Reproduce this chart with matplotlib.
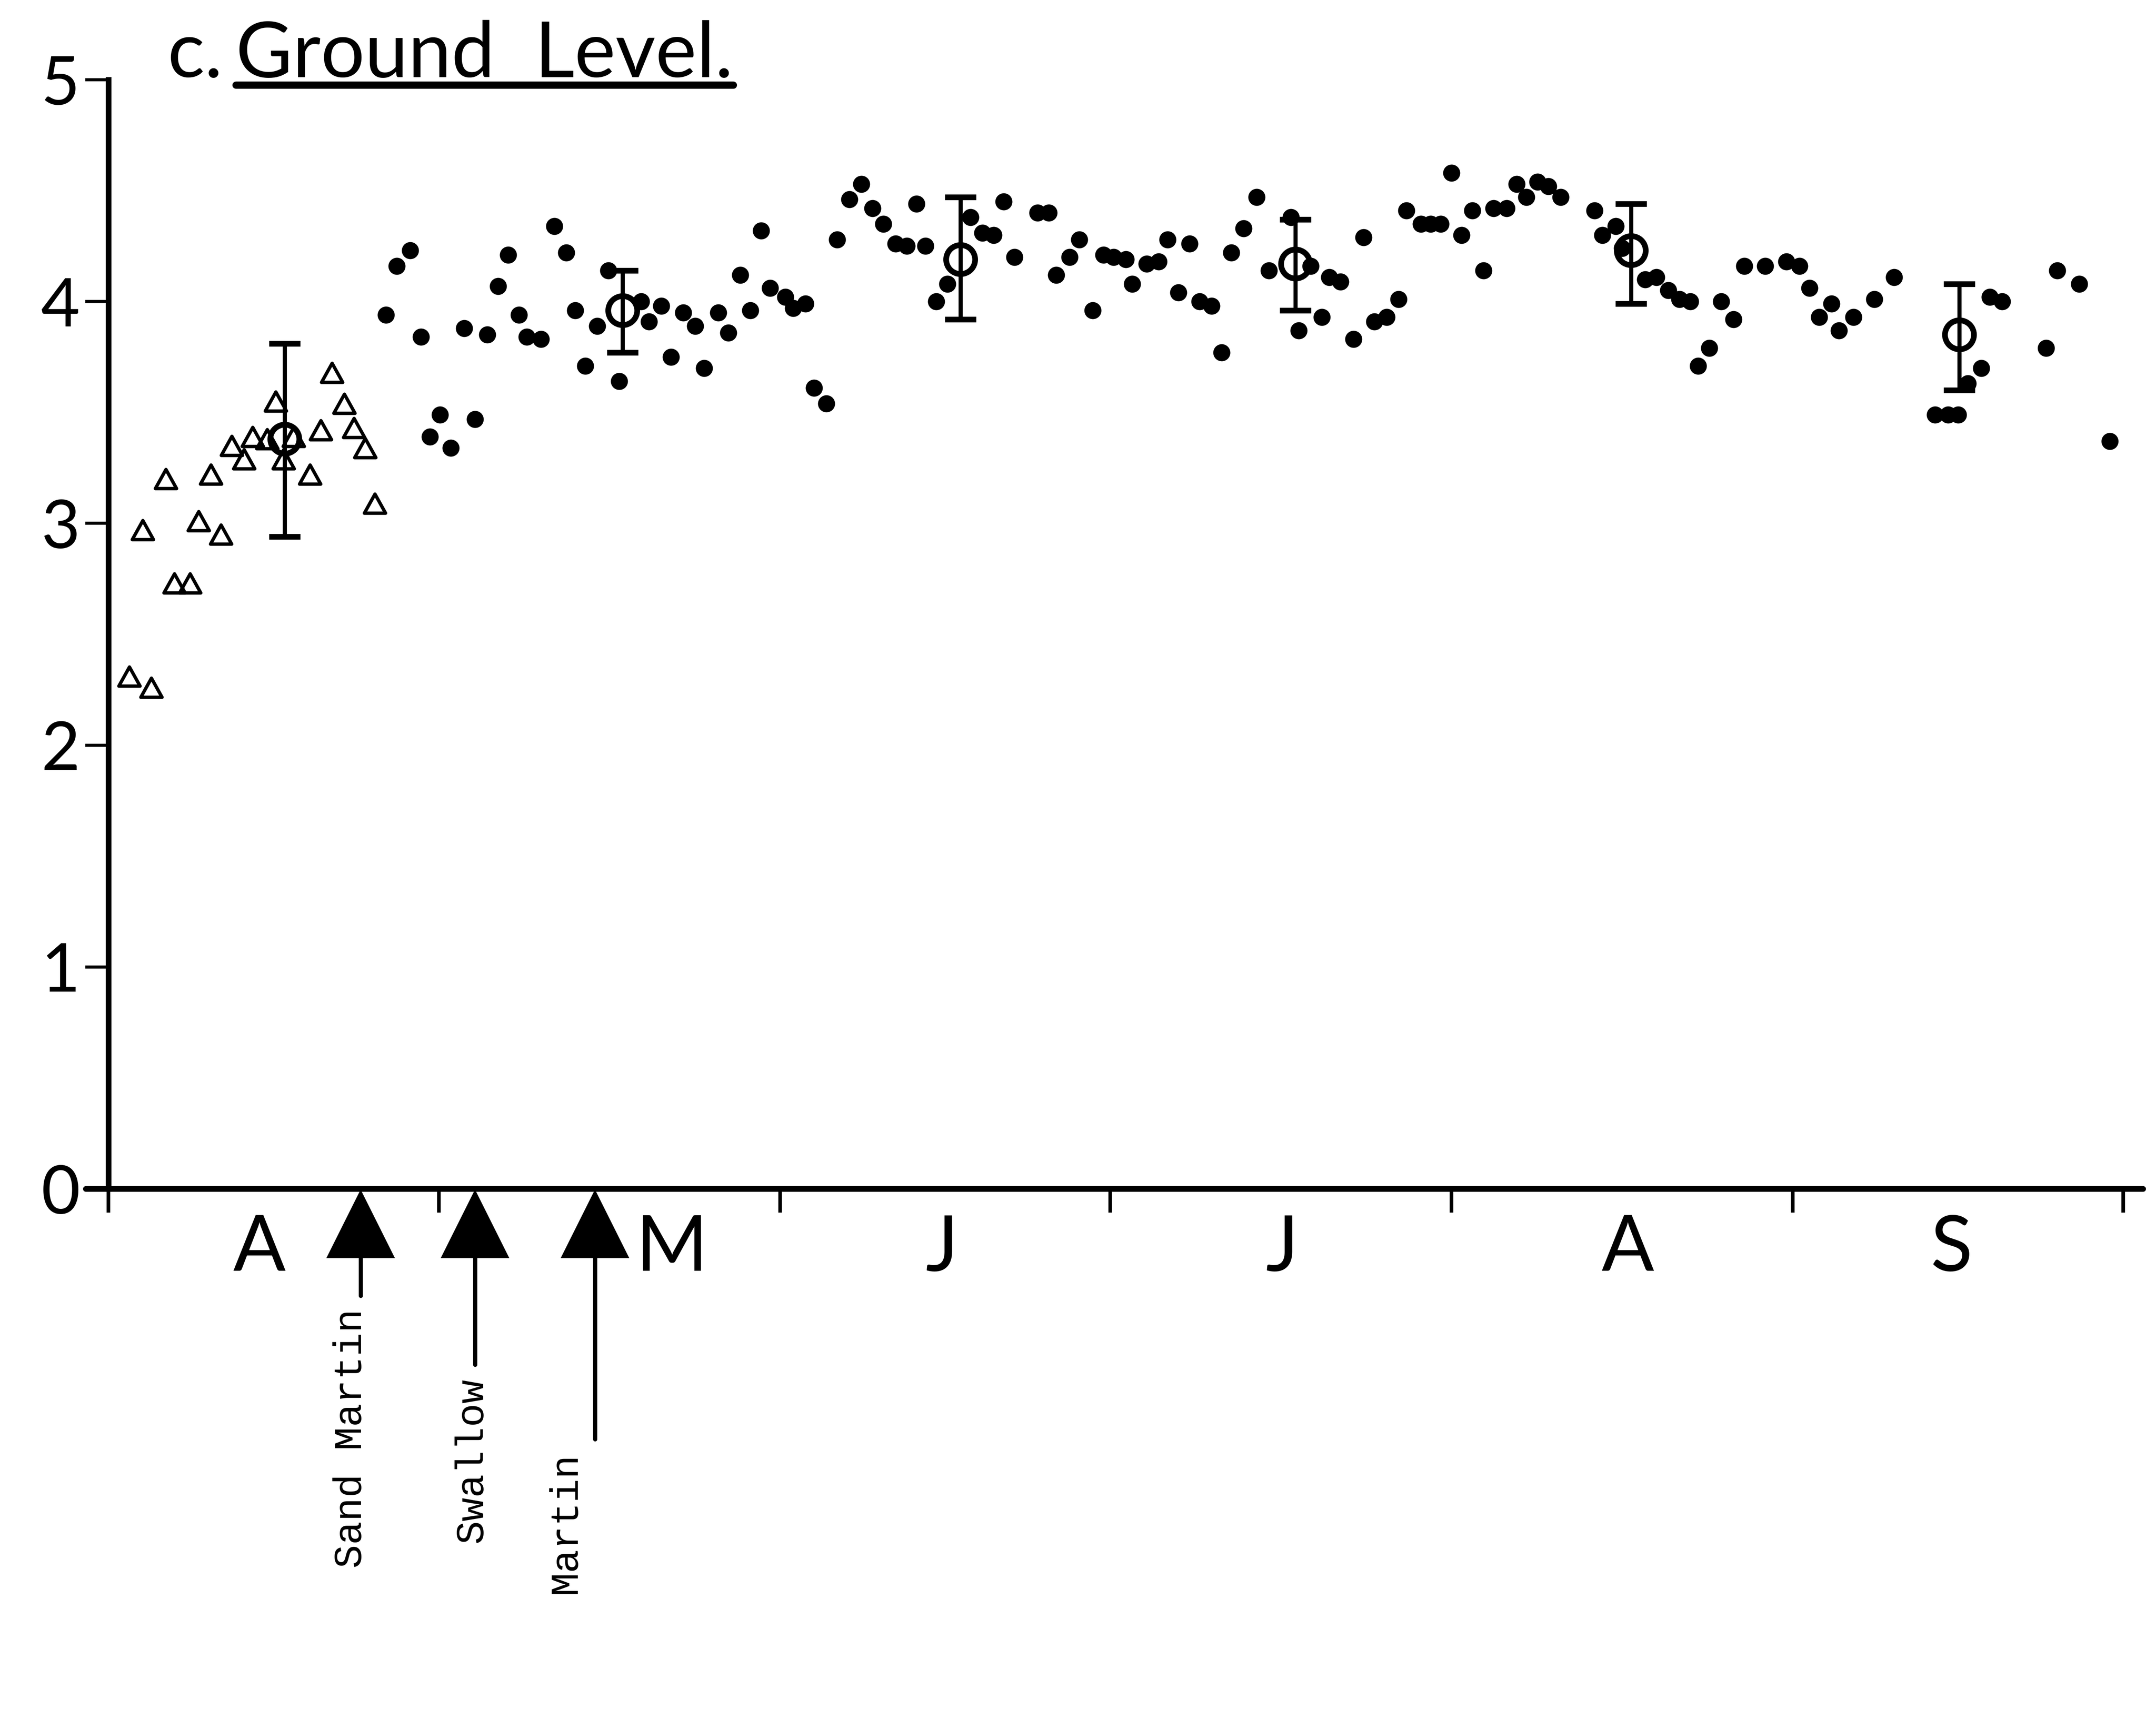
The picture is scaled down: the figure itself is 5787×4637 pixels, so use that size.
import matplotlib
matplotlib.use("Agg")
import matplotlib.pyplot as plt
from matplotlib.path import Path
from matplotlib.lines import Line2D

# ---- data: x = days counted from 1 April, y = activity score (0-5) ----
tri_days = [1.9, 3.1, 3.9, 5.2, 6.0, 7.4, 8.2, 9.3, 10.2, 11.2, 12.3, 13.1,
            14.4, 15.2, 15.9, 16.8, 18.3, 19.3, 20.3, 21.4, 22.3, 23.3, 24.2]
tri_vals = [2.31, 2.97, 2.26, 3.20, 2.73, 2.73, 3.01, 3.22, 2.95, 3.35, 3.29, 3.39,
            3.38, 3.55, 3.29, 3.39, 3.22, 3.42, 3.68, 3.54, 3.43, 3.34, 3.09]

dot_days = [25.2, 26.2, 27.4, 28.4, 29.2, 30.1, 31.1, 32.3, 33.3, 34.4, 35.4, 36.3,
            37.3, 38.0, 39.3, 40.5, 41.6, 42.4, 43.3, 44.4, 45.4, 46.4, 48.4, 49.1,
            50.2, 51.1, 52.2, 53.3, 54.1, 55.4, 56.3, 57.4, 58.3, 59.3, 60.1, 61.5,
            62.2, 63.3, 64.1, 65.2, 66.2, 67.3, 68.4, 69.4, 70.4, 71.5, 72.5, 73.4,
            74.2, 75.2, 76.2, 78.3, 79.4, 80.4, 81.3, 82.3, 84.4, 85.4, 86.1, 87.3,
            88.2, 89.4, 90.4, 91.3, 92.4, 93.0, 94.3, 95.4, 96.2, 97.2, 98.2, 99.1,
            100.2, 101.1, 102.0, 103.1, 104.3, 105.4, 107.4, 108.1, 109.2, 110.2,
            110.9, 111.9, 113.1, 114.0, 115.0, 116.1, 117.2, 117.9, 119.2, 120.1,
            121.0, 122.0, 122.9, 123.9, 124.9, 125.8, 127.0, 127.9, 128.8, 129.8,
            130.8, 131.9, 135.0, 135.7, 136.9, 137.5, 139.6, 140.6, 141.7, 142.7,
            143.7, 144.4, 145.4, 146.5, 147.6, 148.6, 150.5, 152.4, 153.6, 154.5,
            155.4, 156.5, 157.2, 158.5, 160.4, 162.2, 165.9, 167.1, 168.0, 168.9,
            170.1, 170.9, 172.0, 176.0, 177.0, 179.0, 181.8]
dot_vals = [3.94, 4.16, 4.23, 3.84, 3.39, 3.49, 3.34, 3.88, 3.47, 3.85, 4.07, 4.21,
            3.94, 3.84, 3.83, 4.34, 4.22, 3.96, 3.71, 3.89, 4.14, 3.64, 4.00, 3.91,
            3.98, 3.75, 3.95, 3.89, 3.70, 3.95, 3.86, 4.12, 3.96, 4.32, 4.06, 4.02,
            3.97, 3.99, 3.61, 3.54, 4.28, 4.46, 4.53, 4.42, 4.35, 4.26, 4.25, 4.44,
            4.25, 4.00, 4.08, 4.38, 4.31, 4.30, 4.45, 4.20, 4.40, 4.40, 4.12, 4.20,
            4.28, 3.96, 4.21, 4.20, 4.19, 4.08, 4.17, 4.18, 4.28, 4.04, 4.26, 4.00,
            3.98, 3.77, 4.22, 4.33, 4.47, 4.14, 4.38, 3.87, 4.16, 3.93,
            4.11, 4.09, 3.83, 4.29, 3.91, 3.93, 4.01, 4.41, 4.35, 4.35,
            4.35, 4.58, 4.30, 4.41, 4.14, 4.42, 4.42, 4.53, 4.47, 4.54,
            4.52, 4.47, 4.41, 4.30, 4.34, 4.24, 4.10, 4.11, 4.05, 4.01,
            4.00, 3.71, 3.79, 4.00, 3.92, 4.16, 4.16, 4.18, 4.16, 4.06,
            3.93, 3.99, 3.87, 3.93, 4.01, 4.11, 3.49, 3.49, 3.49, 3.63,
            3.70, 4.02, 4.00, 3.79, 4.14, 4.08, 3.37]

# monthly means with their ranges
mean_days = [16.0, 46.7, 77.4, 107.8, 138.3, 168.1]
mean_vals = [3.38, 3.96, 4.19, 4.17, 4.23, 3.85]
mean_low = [2.94, 3.77, 3.92, 3.96, 3.99, 3.60]
mean_high = [3.81, 4.14, 4.47, 4.37, 4.44, 4.08]

month_starts = [0, 30, 61, 91, 122, 153, 183]
month_labels = ["A", "M", "J", "J", "A", "S"]
y_ticks = [0, 1, 2, 3, 4, 5]
y_labels = ["0", "1", "2", "3", "4", "5"]

arrival_days = [22.9, 33.3, 44.2]
arrival_labels = ["Sand Martin", "Swallow", "Martin"]

# ---- figure layout (pixel based) ----
W, H = 5787, 4637
fig = plt.figure(figsize=(W / 100, H / 100), dpi=100)
fig.patch.set_facecolor("white")
ax = fig.add_axes([230 / W, (H - 3190) / H, (5752 - 230) / W, (3190 - 214) / H])
ax.set_xlim(-2.07, 184.8)
ax.set_ylim(0, 5)
ax.patch.set_alpha(0)

for s in ("top", "right"):
    ax.spines[s].set_visible(False)
ax.spines["left"].set_position(("data", 0))
ax.spines["left"].set_bounds(0, 5)
ax.spines["left"].set_linewidth(11)
ax.spines["bottom"].set_linewidth(11)
ax.spines["bottom"].set_capstyle("round")

ax.set_xticks(month_starts)
ax.set_xticklabels([])
ax.tick_params(axis="x", direction="out", length=46, width=7, color="black")
ax.set_yticks(y_ticks)
ax.set_yticklabels(y_labels, fontsize=130, family="Lato")
ax.tick_params(axis="y", direction="out", length=45, width=6, pad=10)

# month initials under the axis
month_label_x = [13.7, 51.2, 75.7, 106.6, 138.0, 167.4]
for xm, lab in zip(month_label_x, month_labels):
    ax.text(xm, -0.37, lab, ha="center", va="baseline", fontsize=150,
            family="Lato", clip_on=False)

# daily observations
ax.plot(dot_days, dot_vals, ls="none", marker="o", ms=33, mfc="black",
        mec="black", mew=0, zorder=3)

tri_marker = Path([(0, 0.9), (-1, -0.9), (1, -0.9), (0, 0.9)],
                  [Path.MOVETO, Path.LINETO, Path.LINETO, Path.CLOSEPOLY])
ax.plot(tri_days, tri_vals, ls="none", marker=tri_marker, ms=41, mfc="none",
        mec="black", mew=6.5, zorder=3)

# monthly means
err_lo = [m - lo for m, lo in zip(mean_vals, mean_low)]
err_hi = [hi - m for m, hi in zip(mean_vals, mean_high)]
ax.errorbar(mean_days, mean_vals, yerr=[err_lo, err_hi], fmt="o", ms=56,
            mfc="none", mec="black", mew=11, ecolor="black", elinewidth=8,
            capsize=30, capthick=9, zorder=4)

# arrival arrows of the hirundines
stem_ends = [-0.482, -0.793, -1.129]
label_shift = [-0.85, -0.3, -2.7]
for d, lab, se, sh in zip(arrival_days, arrival_labels, stem_ends, label_shift):
    ax.plot([d], [-0.158], marker="^", ms=133, color="black", mew=0,
            clip_on=False, zorder=5)
    ax.plot([d, d], [-0.30, se], color="black", lw=8, clip_on=False,
            solid_capstyle="round", zorder=5)
    ax.text(d + sh, se - 0.06, lab, rotation=90, ha="center", va="top",
            fontsize=76, family="Liberation Mono", clip_on=False)

# heading
fig.text(449 / W, (H - 207) / H, "c.", fontsize=150, family="Lato",
         ha="left", va="baseline")
t_head = fig.text(633 / W, (H - 207) / H, "Ground  Level.", fontsize=150,
                  family="Lato", ha="left", va="baseline")
fig.canvas.draw()
bb = t_head.get_window_extent(fig.canvas.get_renderer())
fig.add_artist(Line2D([bb.x0 / W, bb.x1 / W], [(H - 228) / H, (H - 228) / H],
                      transform=fig.transFigure, color="black", lw=14,
                      solid_capstyle="round"))

fig.savefig("out.png", dpi=100, facecolor="white")
